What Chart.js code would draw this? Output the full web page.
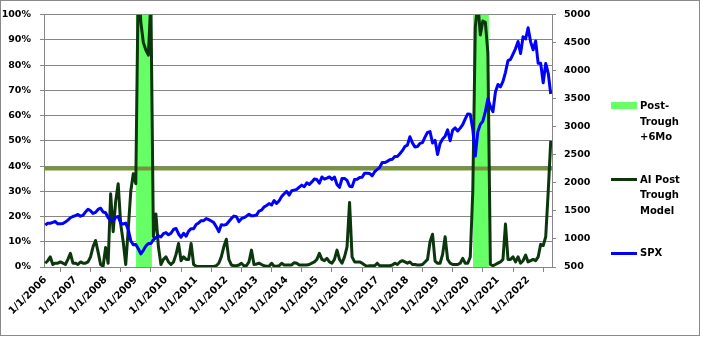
<!DOCTYPE html>
<html>
<head>
<meta charset="utf-8">
<script src="https://cdn.jsdelivr.net/npm/chart.js@4.4.1/dist/chart.umd.min.js"></script>
<style>
  html, body { margin: 0; padding: 0; background: #fff; }
  #wrap { position: relative; width: 701px; height: 337px; }
  #legend { position: absolute; left: 0; top: 0; font: bold 10px "DejaVu Sans", sans-serif; color: #000; }
  .item { position: absolute; left: 611px; }
  .mark { position: absolute; left: 0; width: 26px; }
  .text { position: absolute; left: 29px; width: 52px; line-height: 15.5px; }
</style>
</head>
<body>
<div id="wrap">
  <canvas id="chart" width="701" height="337"></canvas>
  <div id="legend"></div>
</div>
<script>
// monthly categories, 1/1/2006 .. 10/1/2022
const years = [2006, 2007, 2008, 2009, 2010, 2011, 2012, 2013, 2014, 2015, 2016, 2017, 2018, 2019, 2020, 2021, 2022];
const lastMonth2022 = 10;

// S&P 500, month-start values
const spx = [
    1248,
    1280, 1281, 1295, 1311, 1270, 1270, 1277, 1304, 1336, 1378, 1401, 1418,
    1438, 1407, 1421, 1482, 1531, 1503, 1455, 1474, 1527, 1549, 1481, 1468,
    1379, 1331, 1323, 1386, 1400, 1280, 1267, 1283, 1166, 969, 896, 903,
    826, 735, 798, 873, 919, 919, 987, 1021, 1057, 1036, 1096, 1115,
    1074, 1104, 1169, 1187, 1089, 1031, 1102, 1049, 1141, 1183, 1181, 1258,
    1286, 1327, 1326, 1364, 1345, 1321, 1292, 1219, 1131, 1253, 1247, 1258,
    1312, 1366, 1408, 1398, 1310, 1362, 1379, 1407, 1441, 1412, 1416, 1426,
    1498, 1515, 1569, 1598, 1631, 1606, 1686, 1633, 1682, 1757, 1806, 1848,
    1783, 1859, 1872, 1884, 1924, 1960, 1931, 2003, 1972, 2018, 2068, 2059,
    1995, 2105, 2068, 2086, 2107, 2063, 2104, 1972, 1920, 2079, 2080, 2044,
    1940, 1932, 2060, 2065, 2097, 2099, 2174, 2171, 2168, 2126, 2199, 2239,
    2279, 2364, 2363, 2384, 2412, 2423, 2470, 2472, 2519, 2575, 2648, 2674,
    2824, 2714, 2641, 2648, 2705, 2718, 2816, 2902, 2914, 2712, 2760, 2507,
    2704, 2784, 2834, 2946, 2752, 2942, 2980, 2926, 2977, 3038, 3141, 3231,
    3226, 2954, 2480, 2912, 3044, 3100, 3271, 3500, 3363, 3270, 3622, 3756,
    3714, 3811, 3973, 4181, 4204, 4298, 4395, 4523, 4308, 4605, 4567, 4766,
    4516, 4374, 4530, 4132, 4132, 3785, 4130, 3955, 3586
];

// AI post trough model, percent
const aiModel = [
    1.5, 2.5, 4, 1, 1.5, 1.5, 2, 1.5, 1, 3, 5.4, 1.5,
    1.5, 1, 2, 1.5, 1.5, 2, 4, 8, 10.5, 6, 1, 0.3,
    7.7, 1.5, 29, 14, 26, 33, 17, 10, 1, 15, 30, 37,
    33, 115, 97, 89, 86, 84, 106, 12, 21, 8, 1, 3,
    4, 2, 1, 2, 5, 9.3, 2.5, 4, 3, 3, 9.3, 1,
    0.3, 0.2, 0.2, 0.2, 0.2, 0.2, 0.2, 0.2, 0.5, 1.5, 4, 8,
    11, 3, 0.8, 0.5, 0.5, 0.8, 1.5, 0.5, 0.5, 2, 6.7, 1,
    1.2, 1.5, 1, 0.5, 0.3, 0.3, 1.5, 0.3, 0.3, 0.5, 1.5, 0.8,
    0.8, 0.8, 0.8, 1.7, 1.5, 0.8, 0.8, 0.8, 0.8, 1, 1.5, 2,
    3, 5.4, 3, 2.5, 3.4, 2, 1.5, 3, 6.7, 3, 1.5, 4,
    8, 25.6, 4, 2, 2, 2, 1.5, 0.8, 0.3, 0.5, 0.5, 0.5,
    1.5, 0.5, 0.5, 0.5, 0.5, 0.5, 0.8, 1.5, 1, 2, 2.5, 2,
    1.5, 2, 1, 1, 0.8, 0.8, 1, 2, 3, 10, 13, 2.3,
    1.5, 1.5, 5, 12, 3, 1.5, 1, 1, 1, 1.5, 3.4, 1.5,
    1.5, 4, 30, 95, 105, 92, 97.5, 97, 85, 1, 0.5, 1,
    1.5, 2, 3, 17, 3, 3, 4, 2, 4, 1.5, 2.5, 4.7,
    2, 2.5, 3, 2.5, 4, 9, 8.5, 12, 30, 50
];

// months flagged as post-trough +6 months
const postTroughMonths = [
    "2/1/2009", "3/1/2009", "4/1/2009", "5/1/2009", "6/1/2009", "7/1/2009",
    "4/1/2020", "5/1/2020", "6/1/2020", "7/1/2020", "8/1/2020", "9/1/2020"
];
const postTroughLevel = 100;
const thresholdLevel = 39;

const labels = [];
years.forEach(y => {
    const n = y === 2022 ? lastMonth2022 : 12;
    for (let m = 1; m <= n; m++) labels.push(`${m}/1/${y}`);
});

const postTrough = labels.map(l => postTroughMonths.includes(l) ? postTroughLevel : null);
const threshold = labels.map(() => thresholdLevel);

const gridColor = "#868686";
const tickFont = { family: "DejaVu Sans", weight: "bold", size: 9.5 };

const frame = {
    id: "frame",
    afterDraw(chart) {
        const ctx = chart.ctx;
        ctx.save();
        ctx.strokeStyle = "#898989";
        ctx.lineWidth = 1;
        ctx.strokeRect(0.5, 0.5, 699, 335);
        ctx.restore();
    }
};

const chart = new Chart(document.getElementById("chart"), {
    data: {
        labels,
        datasets: [
            {
                type: "line",
                label: "SPX",
                data: spx,
                yAxisID: "y1",
                borderColor: "#0000ff",
                backgroundColor: "#0000ff",
                borderWidth: 3,
                pointRadius: 0,
                borderJoinStyle: "round",
                order: 0,
                clip: 0
            },
            {
                type: "line",
                label: "AI Post Trough Model",
                data: aiModel,
                yAxisID: "y",
                borderColor: "#0c360c",
                backgroundColor: "#0c360c",
                borderWidth: 3,
                pointRadius: 0,
                borderJoinStyle: "round",
                order: 1,
                clip: 0
            },
            {
                type: "line",
                label: "Threshold",
                data: threshold,
                xAxisID: "x2",
                yAxisID: "y",
                borderColor: "#77933c",
                borderWidth: 4,
                pointRadius: 0,
                order: 2,
                clip: 0
            },
            {
                type: "bar",
                label: "Post-Trough +6Mo",
                data: postTrough,
                yAxisID: "y",
                backgroundColor: "#66ff66",
                borderColor: "#66ff66",
                borderWidth: 0,
                inflateAmount: 1,
                barPercentage: 1,
                categoryPercentage: 1,
                order: 3,
                clip: 0
            }
        ]
    },
    options: {
        responsive: false,
        animation: false,
        devicePixelRatio: 1,
        layout: { padding: { top: 12, left: 0, right: 0, bottom: 0 } },
        plugins: {
            legend: { display: false },
            tooltip: { enabled: false }
        },
        scales: {
            x: {
                offset: true,
                grid: {
                    drawOnChartArea: false,
                    drawTicks: true,
                    tickLength: 5,
                    offset: true,
                    color: gridColor
                },
                border: { color: gridColor },
                ticks: {
                    autoSkip: false,
                    maxRotation: 45,
                    minRotation: 45,
                    padding: 2,
                    color: "#000",
                    font: { family: "DejaVu Sans", weight: "bold", size: 10 },
                    callback: (v, i) => i % 12 === 0 ? labels[i] : null
                },
                afterFit: s => { s.height = 70; }
            },
            x2: {
                type: "category",
                labels,
                offset: false,
                display: false
            },
            y: {
                position: "left",
                min: 0,
                max: 100,
                ticks: {
                    stepSize: 10,
                    padding: 9,
                    color: "#000",
                    font: tickFont,
                    callback: v => v + "%"
                },
                grid: { color: gridColor, tickLength: 4 },
                border: { color: gridColor },
                afterFit: s => { s.width = 44; }
            },
            y1: {
                position: "right",
                min: 500,
                max: 5000,
                ticks: {
                    stepSize: 500,
                    padding: 8,
                    color: "#000",
                    font: tickFont,
                    callback: v => String(v)
                },
                grid: { drawOnChartArea: false, tickLength: 4, color: gridColor },
                border: { color: gridColor },
                afterFit: s => { s.width = 149; }
            }
        }
    },
    plugins: [frame]
});

// legend beside the plot, wrapped like the original
const legendTops = { "Post-Trough +6Mo": 98, "AI Post Trough Model": 171.5, "SPX": 245 };
const legend = document.getElementById("legend");
["Post-Trough +6Mo", "AI Post Trough Model", "SPX"].forEach(name => {
    const ds = chart.data.datasets.find(d => d.label === name);
    const item = document.createElement("div");
    item.className = "item";
    item.style.top = legendTops[name] + "px";
    const mark = document.createElement("div");
    mark.className = "mark";
    if (ds.type === "bar") {
        mark.style.top = "3.5px";
        mark.style.height = "7px";
        mark.style.background = ds.backgroundColor;
    } else {
        mark.style.top = "6.5px";
        mark.style.height = "3px";
        mark.style.background = ds.borderColor;
    }
    const text = document.createElement("div");
    text.className = "text";
    text.textContent = name;
    item.appendChild(mark);
    item.appendChild(text);
    legend.appendChild(item);
});
</script>
</body>
</html>
